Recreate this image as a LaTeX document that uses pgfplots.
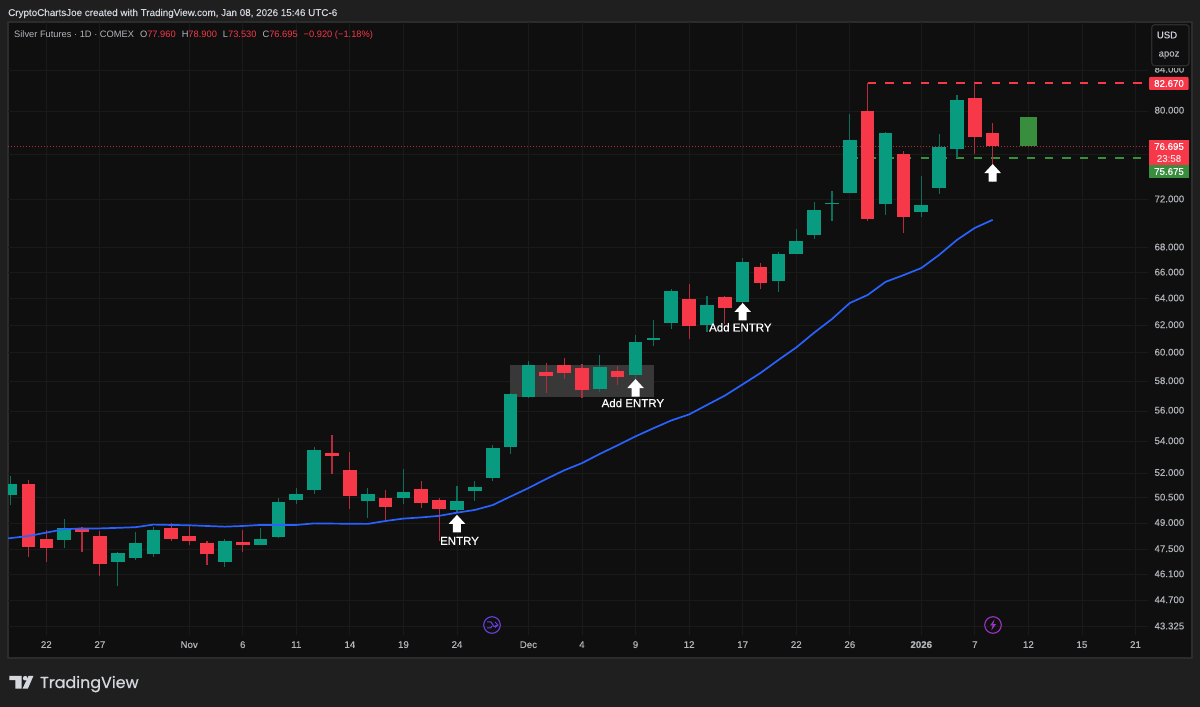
\documentclass[border=0pt]{standalone}
\usepackage{fontspec}
\setmainfont{Liberation Sans}
\newfontfamily\medfont[FakeBold=0.25]{Liberation Sans}
\newfontfamily\logofont[FakeBold=0.5]{Poppins}
\usepackage{pgfplots}
\usepackage{pgfplotstable}
\pgfplotsset{compat=1.18}
\definecolor{outerbg}{HTML}{1F1F1F}
\definecolor{panelbg}{HTML}{0F0F0F}
\definecolor{panelborder}{HTML}{2C2C2C}
\definecolor{gridc}{HTML}{1A1A1A}
\definecolor{labelc}{HTML}{B2B5BA}
\definecolor{titlec}{HTML}{D1D4DC}
\definecolor{upc}{HTML}{089B80}
\definecolor{downc}{HTML}{F63849}
\definecolor{upw}{HTML}{0B6F5C}
\definecolor{downw}{HTML}{B52B3B}
\definecolor{mac}{HTML}{2962FF}
\definecolor{tagg}{HTML}{388E3C}
\definecolor{boxc}{HTML}{383838}
\definecolor{iconb}{HTML}{6A3FE0}
\definecolor{iconp}{HTML}{9C33C8}
\pgfplotstableread{
x lo bot top hi
0 50.07 50.67 51.34 51.80
3 47.57 48.04 48.70 49.23
6 45.50 46.78 47.31 47.35
7 46.91 47.03 47.86 48.47
8 47.06 47.22 48.61 48.80
12 46.52 46.81 47.98 48.08
14 47.74 47.74 48.08 48.70
15 48.19 48.22 50.27 50.47
16 50.13 50.35 50.71 51.09
17 50.75 50.99 53.46 53.63
20 49.31 50.31 50.71 51.09
22 50.13 50.47 50.85 52.25
25 49.58 49.78 50.31 51.21
26 50.31 50.89 51.15 51.53
27 51.53 51.70 53.57 53.78
28 53.21 53.67 57.12 57.19
29 56.85 56.92 59.13 59.43
33 57.28 57.51 59.01 59.88
35 57.77 58.45 60.81 61.28
36 60.51 60.95 61.10 62.40
37 61.73 62.15 64.58 64.71
39 61.53 62.00 63.54 64.20
41 63.75 63.77 66.87 67.17
43 64.48 65.36 67.51 67.62
44 67.46 67.46 68.56 69.49
45 68.72 69.04 71.11 71.80
46 70.16 71.60 71.68 72.76
47 72.61 72.61 77.27 79.72
49 70.69 71.60 77.92 78.05
51 70.52 70.95 71.54 74.02
52 72.48 73.01 76.68 77.83
53 75.675 76.49 81.05 81.54
}\upbars
\pgfplotstableread{
x lo bot top hi
1 47.07 47.62 51.34 51.59
2 46.78 47.57 48.08 48.61
4 47.35 48.50 48.70 48.78
5 46.02 46.68 48.28 48.57
9 47.95 48.08 48.70 49.00
10 47.72 47.95 48.24 48.84
11 46.63 47.22 47.86 47.95
13 47.35 47.74 47.92 48.61
18 51.94 53.10 53.27 54.42
19 49.84 50.61 52.19 53.36
21 49.17 49.97 50.51 50.99
23 49.90 50.21 51.03 51.53
24 47.98 49.84 50.37 50.47
30 57.21 58.38 58.68 59.31
31 58.18 58.57 59.13 59.64
32 56.85 57.40 58.96 59.22
34 57.74 58.33 58.75 59.08
38 60.98 61.93 63.97 65.09
40 62.10 63.27 64.10 64.20
42 64.72 65.19 66.48 66.80
48 70.22 70.36 80.03 82.67
50 69.24 70.55 76.02 76.27
54 76.02 77.54 81.28 82.67
55 73.53 76.695 77.96 78.90
}\downbars
\pgfplotstableread{
x ma
-1 48.05
0 48.14
1 48.26
2 48.46
3 48.65
4 48.70
5 48.70
6 48.73
7 48.77
8 48.92
9 48.90
10 48.88
11 48.84
12 48.80
13 48.84
14 48.90
15 48.90
16 48.90
17 48.99
18 48.98
19 48.97
20 48.96
21 49.13
22 49.27
23 49.34
24 49.43
25 49.62
26 49.78
27 50.07
28 50.58
29 51.09
30 51.65
31 52.18
32 52.63
33 53.21
34 53.76
35 54.33
36 54.86
37 55.37
38 55.77
39 56.40
40 57.03
41 57.80
42 58.59
43 59.50
44 60.39
45 61.46
46 62.47
47 63.67
48 64.28
49 65.29
50 65.81
51 66.37
52 67.41
53 68.63
54 69.62
55 70.29
}\matable
\newcommand{\wicks}[2]{\addplot[draw=none,mark=none,forget plot,
  error bars/.cd,y dir=both,y explicit,error mark=none,
  error bar style={line width=1.1pt,color=#2}]
  table[x=x,y=bot,y error plus expr=\thisrow{hi}-\thisrow{bot},y error minus expr=\thisrow{bot}-\thisrow{lo}] {#1};}
\newcommand{\bodies}[2]{\addplot[draw=none,mark=none,forget plot,
  error bars/.cd,y dir=plus,y explicit,error mark=none,
  error bar style={line width=13.6pt,color=#2}]
  table[x=x,y=bot,y error plus expr=\thisrow{top}-\thisrow{bot}] {#1};}
\newcommand{\whitearrow}[2]{\fill[white] (axis cs:#1,#2) -- ++(8.3pt,-9pt) -- ++(-4.3pt,0pt) -- ++(0pt,-8.5pt) -- ++(-8pt,0pt) -- ++(0pt,8.5pt) -- ++(-4.3pt,0pt) -- cycle;}
\begin{document}
\begin{tikzpicture}[x=1pt,y=1pt]
\fill[outerbg] (0,0) rectangle (1200,707);
\fill[panelbg,draw=panelborder,line width=1.4pt] (8,49) rectangle (1192,685);
\begin{axis}[
  at={(8pt,72pt)},anchor=south west,scale only axis,width=1140pt,height=613pt,
  xmin=-0.145,xmax=63.70,ymode=log,ymin=42.904,ymax=88.93,
  axis line style={draw=none},tick style={draw=none},
  grid=major,major grid style={color=gridc,line width=.8pt},
  axis y line*=right,
  xtick={2,5,10,13,16,19,22,25,29,32,35,38,41,44,47,51,54,57,60,63},
  xticklabels={22,27,Nov,6,11,14,19,24,Dec,4,9,12,17,22,26,{\textbf{2026}},7,12,15,21},
  ytick={84,80,76,72,68,66,64,62,60,58,56,54,52,50.5,49,47.5,46.1,44.7,43.325},
  yticklabels={84.000,80.000,,72.000,68.000,66.000,64.000,62.000,60.000,58.000,56.000,54.000,52.000,50.500,49.000,47.500,46.100,44.700,43.325},
  tick label style={font=\medfont\fontsize{9.7}{11}\selectfont,color=labelc},
  x tick label style={anchor=base,yshift=-13pt},
  y tick label style={anchor=mid west,xshift=3pt},
]
\fill[boxc] (axis cs:27.97,59.13) rectangle (axis cs:36.03,56.92);
\addplot[color=downw,line width=.6pt,dash pattern=on 1pt off 2pt,forget plot] coordinates {(-0.145,76.695) (63.70,76.695)};
\addplot[color=downc,line width=2pt,dash pattern=on 8.4pt off 9.3pt,forget plot] coordinates {(48,82.70) (63.40,82.70)};
\addplot[color=tagg,line width=1.6pt,dash pattern=on 8.4pt off 9.3pt,forget plot] coordinates {(47,75.675) (63.40,75.675)};
\wicks{\upbars}{upw}
\wicks{\downbars}{downw}
\bodies{\upbars}{upc}
\bodies{\downbars}{downc}
\addplot[draw=none,mark=none,forget plot,error bars/.cd,y dir=plus,y explicit,error mark=none,error bar style={line width=17.7pt,color=tagg}] coordinates {(57,76.72) +- (0,2.68)};
\addplot[mac,line width=1.7pt,line join=round,forget plot] table[x=x,y=ma] {\matable};
\whitearrow{25}{49.49}
\whitearrow{35}{58.16}
\whitearrow{41}{63.67}
\whitearrow{55}{75.11}
\node[white,font=\medfont\fontsize{11.5}{13}\selectfont,anchor=center] at (axis cs:25.14,47.98) {ENTRY};
\node[white,font=\medfont\fontsize{11.5}{13}\selectfont,anchor=center] at (axis cs:34.85,56.53) {Add ENTRY};
\node[white,font=\medfont\fontsize{11.5}{13}\selectfont,anchor=center] at (axis cs:40.87,61.85) {Add ENTRY};
\end{axis}
% header text
\node[anchor=base west,inner sep=0pt,text=titlec,font=\medfont\fontsize{9.85}{12}\selectfont] at (8,691) {CryptoChartsJoe created with TradingView.com, Jan 08, 2026 15:46 UTC-6};
\node[anchor=base west,inner sep=0pt,text=labelc,font=\fontsize{9.3}{11}\selectfont] at (14,669.5) {Silver Futures · 1D · COMEX\hspace{6pt}O\textcolor{downc}{77.960}\hspace{6pt}H\textcolor{downc}{78.900}\hspace{6pt}L\textcolor{downc}{73.530}\hspace{6pt}C\textcolor{downc}{76.695}\hspace{6pt}\textcolor{downc}{−0.920 (−1.18\%)}};
% USD box
\fill[panelbg] (1150,638.5) rectangle (1190,642);
\fill[panelbg,draw=panelborder,line width=1.2pt,rounded corners=3pt] (1151.7,641.3) rectangle (1189,682.3);
\node[text=titlec,font=\medfont\fontsize{9.6}{11}\selectfont] at (1167,672) {USD};
\node[text=labelc,font=\medfont\fontsize{9.6}{11}\selectfont] at (1169,652) {apoz};
% price tags
\fill[downc,rounded corners=1pt] (1149,617) rectangle (1188.7,630);
\node[white,font=\medfont\fontsize{9.7}{11}\selectfont] at (1169,623.5) {82.670};
\fill[downc] (1149,542) rectangle (1188.7,567);
\fill[tagg] (1149,529) rectangle (1188.7,542);
\node[white,font=\medfont\fontsize{9.7}{11}\selectfont] at (1169,560.5) {76.695};
\node[text=white!80!downc,font=\medfont\fontsize{9.7}{11}\selectfont] at (1169,548.5) {23:58};
\node[white,font=\medfont\fontsize{9.7}{11}\selectfont] at (1169,535.5) {75.675};
% event icons
\draw[iconb,line width=1.1pt] (492,82) circle (8.3);
\draw[iconb,line width=1pt] (487,85) -- (491,85) -- (494,80.5) -- (498,82) (487,79) -- (490.5,79) -- (492,81) (495,85) -- (498,82) -- (495,79.5);
\draw[iconp,line width=1.1pt] (993,82) circle (8.3);
\fill[iconp] (994.5,87.5) -- (990,81.5) -- (992.6,81.5) -- (991.3,76.5) -- (996,82.8) -- (993.3,82.8) -- cycle;
% logo
\fill[titlec!90!white] (9.3,31) -- (21.5,31) -- (21.5,18.3) -- (15.3,18.3) -- (15.3,26.8) -- (9.3,26.8) -- cycle;
\fill[titlec!90!white] (25.2,28.8) circle (2.3);
\fill[titlec!90!white] (28.5,31) -- (33.4,31) -- (27.8,18.3) -- (22.5,18.3) -- cycle;
\node[anchor=base west,inner sep=0pt,text=titlec!90!white,font=\logofont\fontsize{15.9}{18}\selectfont] at (40,19) {TradingView};
\end{tikzpicture}
\end{document}
